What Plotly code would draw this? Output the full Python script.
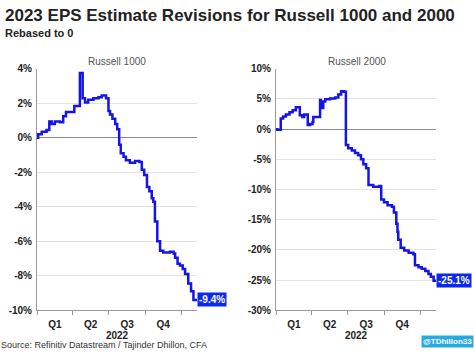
import plotly.graph_objects as go
from plotly.subplots import make_subplots

# ---- data ----
r1000_dates = ["2022-01-01", "2022-01-04", "2022-01-13", "2022-01-25", "2022-02-01", "2022-02-07",
               "2022-02-15", "2022-02-28", "2022-03-08", "2022-03-15", "2022-04-05", "2022-04-19",
               "2022-04-26", "2022-05-02", "2022-05-10", "2022-05-23", "2022-06-05", "2022-06-13",
               "2022-06-24", "2022-06-30", "2022-07-04", "2022-07-10", "2022-07-17", "2022-07-22",
               "2022-07-27", "2022-07-31", "2022-08-07", "2022-08-13", "2022-08-23", "2022-09-05",
               "2022-09-16", "2022-09-22", "2022-09-28", "2022-10-05", "2022-10-11", "2022-10-17",
               "2022-10-21", "2022-10-25", "2022-10-31", "2022-11-07", "2022-11-15", "2022-12-02",
               "2022-12-11", "2022-12-15", "2022-12-21", "2022-12-27", "2023-01-03", "2023-01-09",
               "2023-01-17", "2023-01-24", "2023-01-30", "2023-02-08"]
r1000_vals = [0.0, 0.2, 0.35, 0.45, 0.95, 0.8,
              0.95, 0.9, 1.25, 1.5, 1.85, 3.75,
              2.3, 2.05, 2.2, 2.3, 2.35, 2.45,
              2.3, 1.55, 1.35, 1.1, 0.8, 0.5,
              -0.4, -0.9, -1.1, -1.3, -1.45, -1.35,
              -1.4, -1.85, -2.15, -2.85, -3.1, -3.5,
              -3.7, -4.85, -6.0, -6.55, -6.65, -6.6,
              -6.7, -6.95, -7.3, -7.4, -7.6, -7.9,
              -8.45, -8.9, -9.4, -9.4]

r2000_dates = ["2022-01-01", "2022-01-04", "2022-01-13", "2022-01-19", "2022-01-26", "2022-02-04",
               "2022-02-12", "2022-02-20", "2022-03-02", "2022-03-08", "2022-03-13", "2022-03-22",
               "2022-03-28", "2022-04-03", "2022-04-05", "2022-04-22", "2022-04-24", "2022-04-30",
               "2022-05-05", "2022-05-17", "2022-05-30", "2022-06-07", "2022-06-14", "2022-06-21",
               "2022-06-26", "2022-07-02", "2022-07-11", "2022-07-19", "2022-07-27", "2022-08-03",
               "2022-08-09", "2022-08-16", "2022-08-22", "2022-09-03", "2022-09-18", "2022-09-23",
               "2022-09-30", "2022-10-09", "2022-10-20", "2022-10-25", "2022-10-31", "2022-11-03",
               "2022-11-05", "2022-11-11", "2022-11-20", "2022-12-01", "2022-12-13", "2022-12-17",
               "2022-12-26", "2023-01-03", "2023-01-12", "2023-01-20", "2023-01-26", "2023-02-02",
               "2023-02-08"]
r2000_vals = [0.0, -0.1, 1.75, 2.1, 2.45, 2.8,
              3.15, 3.65, 2.3, 2.0, 2.45, 0.7,
              0.85, 1.2, 2.0, 4.85, 3.5, 4.6,
              4.95, 5.1, 5.25, 5.75, 6.3, 6.2,
              -2.6, -3.15, -3.55, -3.95, -4.3, -5.0,
              -5.8, -6.45, -9.25, -9.55, -9.4, -11.65,
              -12.1, -12.6, -12.85, -13.8, -15.65, -17.0,
              -18.3, -19.65, -20.1, -20.45, -20.7, -22.55,
              -22.85, -23.1, -23.5, -24.0, -24.45, -25.1,
              -25.1]

quarter_starts = ["2022-01-01", "2022-04-01", "2022-07-01", "2022-10-01", "2023-01-01"]
quarter_mids = ["2022-02-15", "2022-05-16", "2022-08-16", "2022-11-15"]
quarter_labels = ["Q1", "Q2", "Q3", "Q4"]
x_range = ["2022-01-01", "2023-02-08"]

r1000_ticks = [4, 2, 0, -2, -4, -6, -8, -10]
r2000_ticks = [10, 5, 0, -5, -10, -15, -20, -25, -30]

title_text = "2023 EPS Estimate Revisions for Russell 1000 and 2000"
subtitle_text = "Rebased to 0"
source_text = "Source: Refinitiv Datastream / Tajinder Dhillon, CFA"
handle_text = "@TDhillon33"
year_text = "2022"

# ---- styles ----
W, H = 474, 354
FONT = "Arial, Liberation Sans, sans-serif"
BLUE = "#1414e6"
LABEL_BLUE = "#0a28f0"
GRID = "#e3e3e3"
AXIS = "#9a9a9a"
ZERO = "#8c8c8c"
TXT = "#222222"

fig = make_subplots(rows=1, cols=2)

fig.add_trace(go.Scatter(x=r1000_dates, y=r1000_vals, mode="lines", line_shape="hv",
                         line=dict(color=BLUE, width=2.5), showlegend=False), row=1, col=1)
fig.add_trace(go.Scatter(x=r2000_dates, y=r2000_vals, mode="lines", line_shape="hv",
                         line=dict(color=BLUE, width=2.5), showlegend=False), row=1, col=2)

def px_x(p):
    return p / W

def px_y(p):
    return 1 - p / H

ytop, ybot = px_y(65), px_y(315)

xcommon = dict(type="date", range=x_range, showgrid=False,
               tickmode="array", tickvals=quarter_mids, ticktext=quarter_labels, ticks="",
               ticklabelstandoff=5,
               tickfont=dict(family=FONT, size=10, color=TXT, weight="bold"),
               minor=dict(tickmode="array", tickvals=quarter_starts, ticks="outside",
                          ticklen=4, tickcolor=AXIS, tickwidth=1, showgrid=False),
               showline=True, linecolor=AXIS, linewidth=1, zeroline=False,
               title=dict(text=year_text, font=dict(family=FONT, size=10, color=TXT, weight="bold"),
                          standoff=0),
               fixedrange=True)

fig.update_layout(
    xaxis=dict(domain=[px_x(37), px_x(197)], **xcommon),
    xaxis2=dict(domain=[px_x(276), px_x(436)], **xcommon),
)

ycommon = dict(showgrid=True, gridcolor=GRID, gridwidth=1,
               zeroline=True, zerolinecolor=ZERO, zerolinewidth=1,
               showline=True, linecolor=AXIS, linewidth=1,
               ticks="", ticklabelstandoff=2,
               tickfont=dict(family=FONT, size=10, color=TXT, weight="bold"),
               fixedrange=True)

fig.update_layout(
    yaxis=dict(domain=[ybot, ytop], range=[-10, 4], tickmode="array", tickvals=r1000_ticks,
               ticktext=[f"{v}%" for v in r1000_ticks], **ycommon),
    yaxis2=dict(domain=[ybot, ytop], range=[-30, 10], tickmode="array", tickvals=r2000_ticks,
                ticktext=[f"{v}%" for v in r2000_ticks], **ycommon),
)

annotations = [
    dict(text=title_text, x=px_x(3), y=px_y(10), xref="paper", yref="paper",
         xanchor="left", yanchor="middle", showarrow=False,
         font=dict(family=FONT, size=17, color=TXT, weight="bold")),
    dict(text=subtitle_text, x=px_x(3), y=px_y(28), xref="paper", yref="paper",
         xanchor="left", yanchor="middle", showarrow=False,
         font=dict(family=FONT, size=11, color=TXT, weight="bold")),
    dict(text="Russell 1000", x=px_x(117), y=px_y(57), xref="paper", yref="paper",
         xanchor="center", yanchor="middle", showarrow=False,
         font=dict(family=FONT, size=10, color="#555555")),
    dict(text="Russell 2000", x=px_x(357), y=px_y(57), xref="paper", yref="paper",
         xanchor="center", yanchor="middle", showarrow=False,
         font=dict(family=FONT, size=10, color="#555555")),
    dict(text=source_text, x=0, y=0, xref="paper", yref="paper",
         xanchor="left", yanchor="bottom", showarrow=False, borderpad=0, yshift=-3,
         font=dict(family=FONT, size=9, color="#333333")),
    dict(text=handle_text, x=1, y=0, xref="paper", yref="paper",
         xanchor="right", yanchor="bottom", showarrow=False, bgcolor="#29a9e1",
         borderpad=1, font=dict(family=FONT, size=8, color="white", weight="bold")),
    dict(text=f"{r1000_vals[-1]:.1f}%", x=r1000_dates[-1], y=r1000_vals[-1], xref="x", yref="y",
         xanchor="left", yanchor="middle", showarrow=False, bgcolor=LABEL_BLUE, borderpad=1,
         font=dict(family=FONT, size=10, color="white", weight="bold")),
    dict(text=f"{r2000_vals[-1]:.1f}%", x=r2000_dates[-1], y=r2000_vals[-1], xref="x2", yref="y2",
         xanchor="left", yanchor="middle", showarrow=False, bgcolor=LABEL_BLUE, borderpad=1,
         font=dict(family=FONT, size=10, color="white", weight="bold")),
]

fig.update_layout(
    width=W, height=H, margin=dict(l=0, r=0, t=0, b=0),
    paper_bgcolor="white", plot_bgcolor="white",
    annotations=annotations, showlegend=False,
)

fig.write_html("out.html", config={"displayModeBar": False})
